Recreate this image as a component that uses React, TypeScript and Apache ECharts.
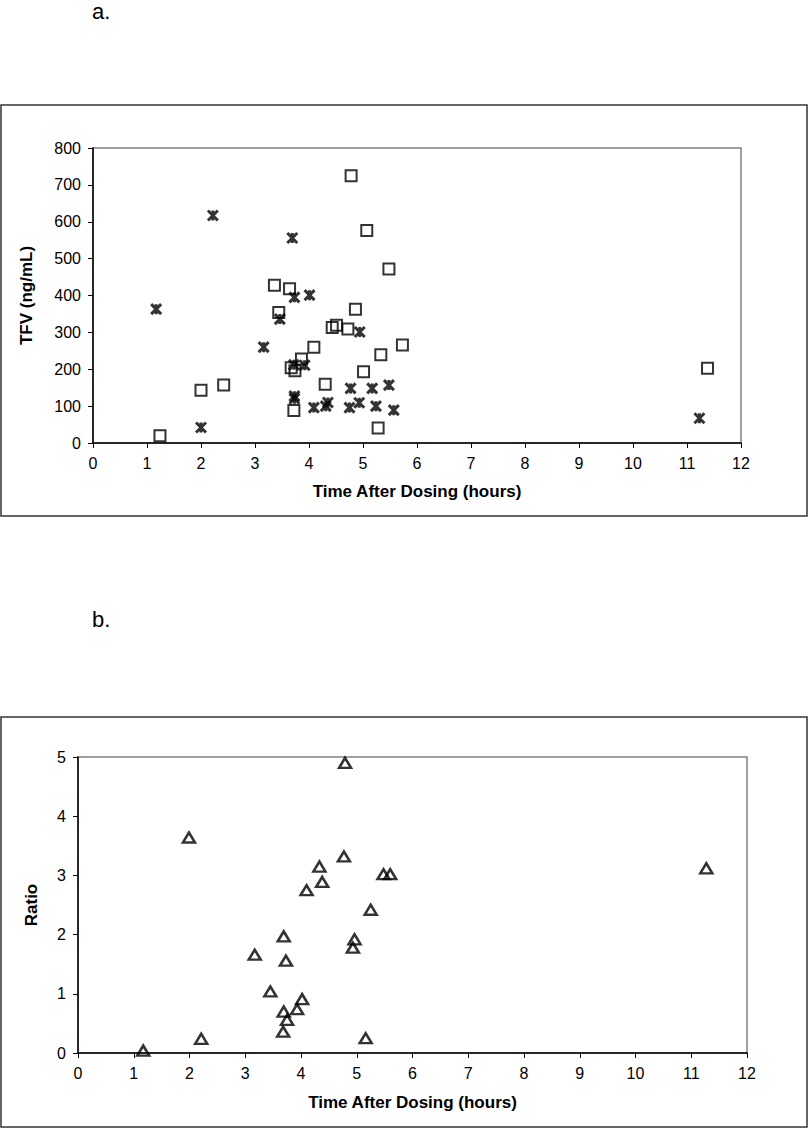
import React, { useEffect, useRef } from "react";
import * as echarts from "echarts";

// Panel a: squares series
const sqTime = [1.24, 2.0, 2.42, 3.36, 3.64, 3.44, 3.67, 3.74, 3.86, 4.09, 3.72, 4.3, 4.43, 4.51, 4.72, 4.78, 4.86, 5.07, 5.48, 5.01, 5.33, 5.73, 5.28, 11.38];
const sqTFV = [20, 143, 157, 428, 418, 354, 204, 196, 228, 260, 88, 159, 313, 319, 309, 725, 363, 576, 472, 193, 239, 266, 41, 203];

// Panel a: star series
const starTime = [1.17, 2.0, 2.22, 3.16, 3.46, 3.69, 3.72, 3.73, 3.73, 3.73, 3.92, 4.01, 4.09, 4.31, 4.35, 4.75, 4.77, 4.93, 4.94, 5.17, 5.24, 5.48, 5.57, 11.23];
const starTFV = [363, 42, 617, 260, 336, 556, 212, 395, 127, 120, 211, 401, 96, 100, 110, 96, 148, 109, 301, 148, 100, 157, 89, 67];

// Panel b: ratio series
const ratioTime = [1.17, 1.99, 2.21, 3.17, 3.45, 3.69, 3.73, 3.69, 3.75, 3.68, 3.93, 4.02, 4.1, 4.33, 4.38, 4.77, 4.79, 4.93, 4.96, 5.16, 5.25, 5.48, 5.6, 11.27];
const ratioValue = [0.04, 3.64, 0.24, 1.66, 1.04, 1.97, 1.56, 0.7, 0.56, 0.36, 0.74, 0.91, 2.75, 3.15, 2.89, 3.32, 4.9, 1.78, 1.92, 0.25, 2.42, 3.02, 3.02, 3.12];

const xTicks = { min: 0, max: 12, interval: 1 };
const tfvTicks = { min: 0, max: 800, interval: 100 };
const ratioTicks = { min: 0, max: 5, interval: 1 };

const FONT = "'Liberation Sans', Arial, sans-serif";
const STAR = "path://M0 0 L10 10 M10 0 L0 10 M5 0 L5 10";

const zip = (xs: number[], ys: number[]) => xs.map((x, i) => [x, ys[i]]);

function axisCommon(extra: any) {
  return {
    type: "value",
    splitLine: { show: false },
    axisLine: { show: true, onZero: false, lineStyle: { color: "#000", width: 1.5 } },
    axisTick: { show: true, inside: false, length: 5, lineStyle: { color: "#000", width: 1 } },
    axisLabel: { color: "#000", fontSize: 16, fontFamily: FONT, margin: 12 },
    nameTextStyle: { color: "#000", fontSize: 17, fontWeight: "bold", fontFamily: FONT },
    nameLocation: "middle",
    ...extra,
  };
}

export default function App() {
  const ref = useRef<HTMLDivElement>(null);
  useEffect(() => {
    const chart = echarts.init(ref.current!, null, { renderer: "svg" });
    chart.setOption({
      animation: false,
      backgroundColor: "#fff",
      grid: [
        { left: 93, top: 148, width: 648, height: 295, show: true, borderColor: "#808080", borderWidth: 1.5, backgroundColor: "transparent" },
        { left: 78, top: 757, width: 669, height: 296, show: true, borderColor: "#808080", borderWidth: 1.5, backgroundColor: "transparent" },
      ],
      xAxis: [
        axisCommon({ gridIndex: 0, ...xTicks, name: "Time After Dosing (hours)", nameGap: 40 }),
        axisCommon({ gridIndex: 1, ...xTicks, name: "Time After Dosing (hours)", nameGap: 41 }),
      ],
      yAxis: [
        axisCommon({ gridIndex: 0, ...tfvTicks, name: "TFV (ng/mL)", nameGap: 58 }),
        axisCommon({ gridIndex: 1, ...ratioTicks, name: "Ratio", nameGap: 38 }),
      ],
      graphic: [
        { type: "rect", silent: true, shape: { x: 1, y: 105, width: 806, height: 411 }, style: { fill: "none", stroke: "#333", lineWidth: 1.5 } },
        { type: "rect", silent: true, shape: { x: 1, y: 717, width: 806, height: 410 }, style: { fill: "none", stroke: "#333", lineWidth: 1.5 } },
        { type: "text", silent: true, x: 92, y: 0, style: { text: "a.", fontSize: 22, fontFamily: FONT, fill: "#000", verticalAlign: "top" } },
        { type: "text", silent: true, x: 92, y: 619, style: { text: "b.", fontSize: 22, fontFamily: FONT, fill: "#000", verticalAlign: "middle" } },
      ],
      series: [
        {
          type: "scatter",
          xAxisIndex: 0,
          yAxisIndex: 0,
          data: zip(sqTime, sqTFV),
          symbol: "rect",
          symbolSize: 11,
          itemStyle: { color: "rgba(0,0,0,0)", borderColor: "#000", borderWidth: 2 },
        },
        {
          type: "scatter",
          xAxisIndex: 0,
          yAxisIndex: 0,
          data: zip(starTime, starTFV),
          symbol: STAR,
          symbolSize: 10,
          symbolKeepAspect: true,
          itemStyle: { color: "rgba(0,0,0,0)", borderColor: "#000", borderWidth: 3 },
        },
        {
          type: "scatter",
          xAxisIndex: 1,
          yAxisIndex: 1,
          data: zip(ratioTime, ratioValue),
          symbol: "triangle",
          symbolSize: [12, 10],
          itemStyle: { color: "rgba(0,0,0,0)", borderColor: "#000", borderWidth: 2.5 },
        },
      ],
    });
    return () => chart.dispose();
  }, []);
  return (
    <div
      ref={ref}
      style={{ position: "absolute", left: 0, top: 0, width: 809, height: 1129, background: "#fff" }}
    />
  );
}
